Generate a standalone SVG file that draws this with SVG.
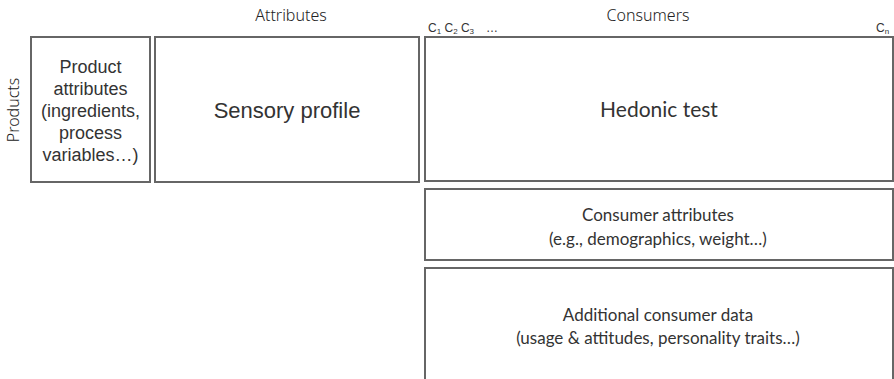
<svg xmlns="http://www.w3.org/2000/svg" width="894" height="379" viewBox="0 0 894 379">
<style>
.box{fill:#fff;stroke:#666;stroke-width:2}
.ar{font-family:"Liberation Sans",Arial,sans-serif;fill:#333;text-anchor:middle}
.cal{font-family:Lato,"Open Sans",sans-serif;fill:#333;text-anchor:middle}
.hand{font-family:"Noto Sans",sans-serif;font-weight:300;fill:#222;font-size:16px;text-anchor:middle}
.c{font-family:"Liberation Sans",Arial,sans-serif;fill:#333;font-size:12px}
.sub{font-size:8px}
</style>
<rect width="894" height="379" fill="#fff"/>
<g id="labels">
<text class="hand" x="291" y="21">Attributes</text>
<text class="hand" x="648" y="21">Consumers</text>
<text class="hand" transform="translate(19,110) rotate(-90)">Products</text>
<text class="c" x="428" y="32">C<tspan class="sub" dy="2">1</tspan><tspan dy="-2"> C</tspan><tspan class="sub" dy="2">2</tspan><tspan dy="-2"> C</tspan><tspan class="sub" dy="2">3</tspan><tspan dy="-2" x="486">…</tspan></text>
<text class="c" x="876" y="32">C<tspan class="sub" dy="2">n</tspan></text>
</g>
<g id="product-attributes">
<rect class="box" x="31" y="37" width="119" height="145"/>
<text class="ar" font-size="18" x="90.5"><tspan x="90.5" y="73">Product</tspan><tspan x="90.5" y="95">attributes</tspan><tspan x="90.5" y="117">(ingredients,</tspan><tspan x="90.5" y="139">process</tspan><tspan x="90.5" y="161">variables…)</tspan></text>
</g>
<g id="sensory-profile">
<rect class="box" x="155" y="37" width="264" height="145"/>
<text class="ar" font-size="22" x="287" y="118">Sensory profile</text>
</g>
<g id="hedonic-test">
<rect class="box" x="425" y="37" width="468" height="144"/>
<text class="cal" font-size="21" x="659" y="117">Hedonic test</text>
</g>
<g id="consumer-attributes">
<rect class="box" x="425" y="189" width="468" height="71"/>
<text class="cal" font-size="17"><tspan x="658" y="221">Consumer attributes</tspan><tspan x="658" y="245">(e.g., demographics, weight…)</tspan></text>
</g>
<g id="additional-consumer-data">
<rect class="box" x="425" y="268" width="468" height="120"/>
<text class="cal" font-size="17"><tspan x="658" y="321">Additional consumer data</tspan><tspan x="658" y="344">(usage &amp; attitudes, personality traits…)</tspan></text>
</g>
<g id="connectors"/>
</svg>
